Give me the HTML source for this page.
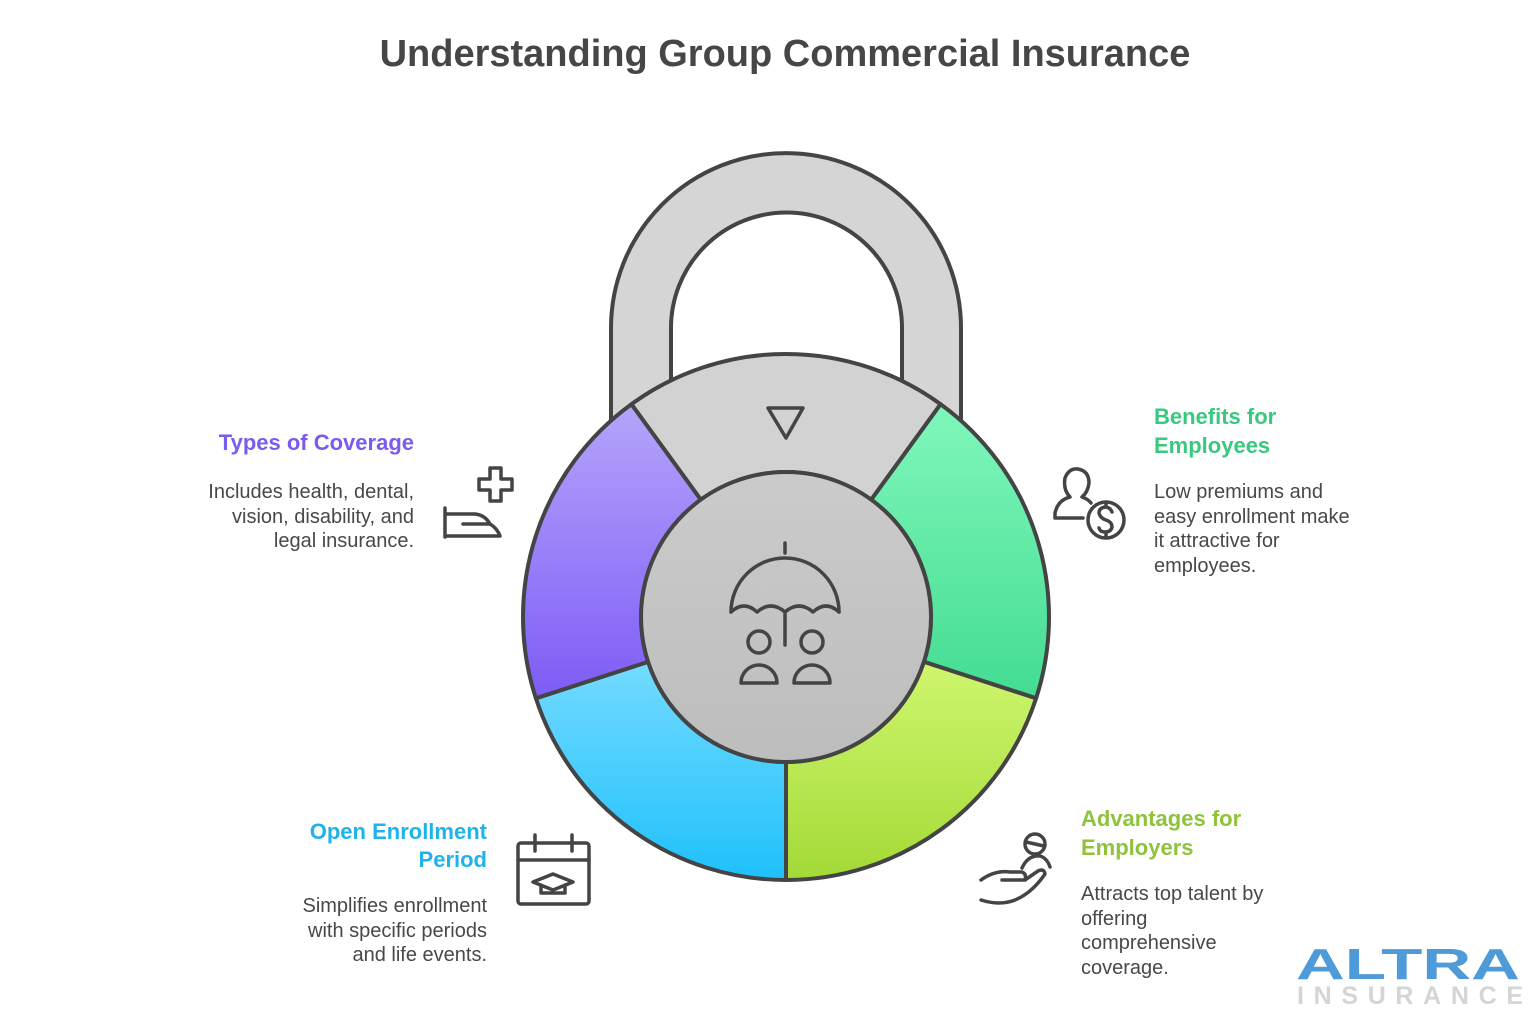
<!DOCTYPE html>
<html><head><meta charset="utf-8"><style>
html,body{margin:0;padding:0;background:#fff;}
svg{display:block;}
text{font-family:"Liberation Sans",sans-serif;}
</style></head><body>
<svg width="1536" height="1024" viewBox="0 0 1536 1024" xmlns="http://www.w3.org/2000/svg">
<defs>
<linearGradient id="gp" x1="0" y1="0" x2="0" y2="1"><stop offset="0" stop-color="#b6a4fb"/><stop offset="1" stop-color="#7d5cf6"/></linearGradient>
<linearGradient id="gg" x1="0" y1="0" x2="0" y2="1"><stop offset="0" stop-color="#80f7bb"/><stop offset="1" stop-color="#43dc92"/></linearGradient>
<linearGradient id="gl" x1="0" y1="0" x2="0" y2="1"><stop offset="0" stop-color="#cff66f"/><stop offset="1" stop-color="#a3da36"/></linearGradient>
<linearGradient id="gb" x1="0" y1="0" x2="0" y2="1"><stop offset="0" stop-color="#74dbff"/><stop offset="1" stop-color="#1fc0fb"/></linearGradient>
<linearGradient id="gc" x1="0" y1="0" x2="0" y2="1"><stop offset="0" stop-color="#cbcbcb"/><stop offset="1" stop-color="#bdbdbd"/></linearGradient>
</defs>
<text x="785" y="66" text-anchor="middle" font-size="38" font-weight="bold" fill="#464646">Understanding Group Commercial Insurance</text>

<path d="M611,420 V328 A175,175 0 0 1 961,328 V420 H902 V328 A115.5,115.5 0 0 0 671,328 V420 Z" fill="#d5d5d5" stroke="#444" stroke-width="4" stroke-linejoin="round"/>

<g stroke="#444" stroke-width="4" stroke-linejoin="round">
<path d="M631.4,404.2 A263,263 0 0 1 940.6,404.2 L871.2,499.7 A145,145 0 0 0 700.8,499.7 Z" fill="#d2d2d2"/>
<path d="M940.6,404.2 A263,263 0 0 1 1036.1,698.3 L923.9,661.8 A145,145 0 0 0 871.2,499.7 Z" fill="url(#gg)"/>
<path d="M1036.1,698.3 A263,263 0 0 1 786,880 L786,762 A145,145 0 0 0 923.9,661.8 Z" fill="url(#gl)"/>
<path d="M786,880 A263,263 0 0 1 535.9,698.3 L648.1,661.8 A145,145 0 0 0 786,762 Z" fill="url(#gb)"/>
<path d="M535.9,698.3 A263,263 0 0 1 631.4,404.2 L700.8,499.7 A145,145 0 0 0 648.1,661.8 Z" fill="url(#gp)"/>
<circle cx="786" cy="617" r="145" fill="url(#gc)"/>
</g>

<g fill="none" stroke="#444" stroke-width="3.5" stroke-linecap="round" stroke-linejoin="round">
<path d="M768,408 H803 L786,438 Z"/>
<path d="M785,543 V553"/>
<path d="M731,612 A54,54 0 0 1 839,612"/>
<path d="M731,612 Q744,600 757,612 Q771,600 785,612 Q799,600 813,612 Q826,600 839,612"/>
<path d="M785,612 V645"/>
<circle cx="759" cy="642" r="11"/><circle cx="812" cy="642" r="11"/>
<path d="M741,683 A18,18 0 0 1 777,683 Z"/><path d="M794,683 A18,18 0 0 1 830,683 Z"/>
<path d="M490,468 h11 v11 h11 v11 h-11 v11 h-11 v-11 h-11 v-11 h11 Z"/>
<path d="M445,508 V537 M445,514 H475 Q485,515 490,524 M463,524 H490 Q497,528 500,536 H445"/>
<path d="M1055,518 V513 Q1058,500 1070,497 Q1063,490 1065,478 Q1069,468 1078,469 Q1089,471 1089,483 Q1088,492 1082,497 Q1088,499 1091,503 M1055,518 H1083"/>
<circle cx="1106" cy="520" r="18"/>
<path d="M1112,512 Q1110,507 1105,507 Q1099,508 1099,513 Q1100,518 1106,520 Q1112,522 1112,527 Q1111,532 1105,532 Q1100,532 1099,528 M1106,503 V507 M1106,532 V537"/>
<circle cx="1035" cy="844" r="10"/><path d="M1026,842 L1044,846"/>
<path d="M1022,868 Q1028,855 1040,856 Q1047,858 1050,867"/>
<path d="M981,880 Q995,870 1010,872 L1022,872 Q1027,874 1025,880 H1002 M1025,880 L1038,871 Q1044,868 1045,874 Q1032,893 1015,900 Q1000,906 981,900"/>
<rect x="518" y="843" width="71" height="61" rx="3"/>
<path d="M518,860 H589 M535,835 V851 M572,835 V851"/>
<path d="M533,882 L553,874 L573,882 L553,890 Z M541,885 V893 H565 V885"/>
</g>

<g font-size="22" font-weight="bold">
<text x="414" y="450" text-anchor="end" fill="#7b5bef">Types of Coverage</text>
<text x="1154" y="424" fill="#38c97f">Benefits for</text>
<text x="1154" y="453" fill="#38c97f">Employees</text>
<text x="487" y="839" text-anchor="end" fill="#1fb3ec">Open Enrollment</text>
<text x="487" y="867" text-anchor="end" fill="#1fb3ec">Period</text>
<text x="1081" y="826" fill="#8ec33a">Advantages for</text>
<text x="1081" y="855" fill="#8ec33a">Employers</text>
</g>
<g font-size="20" fill="#484848">
<text text-anchor="end"><tspan x="414" y="498">Includes health, dental,</tspan><tspan x="414" y="523">vision, disability, and</tspan><tspan x="414" y="547">legal insurance.</tspan></text>
<text><tspan x="1154" y="498">Low premiums and</tspan><tspan x="1154" y="523">easy enrollment make</tspan><tspan x="1154" y="547">it attractive for</tspan><tspan x="1154" y="572">employees.</tspan></text>
<text text-anchor="end"><tspan x="487" y="912">Simplifies enrollment</tspan><tspan x="487" y="937">with specific periods</tspan><tspan x="487" y="961">and life events.</tspan></text>
<text><tspan x="1081" y="900">Attracts top talent by</tspan><tspan x="1081" y="925">offering</tspan><tspan x="1081" y="949">comprehensive</tspan><tspan x="1081" y="974">coverage.</tspan></text>
</g>

<text x="1408" y="979" text-anchor="middle" font-size="44" font-weight="bold" fill="#4f9ad9" textLength="224" lengthAdjust="spacingAndGlyphs">ALTRA</text>
<text x="1410" y="1004" text-anchor="middle" font-size="25" font-weight="bold" fill="#d5d5d5" textLength="226" lengthAdjust="spacing">INSURANCE</text>
</svg>
</body></html>
